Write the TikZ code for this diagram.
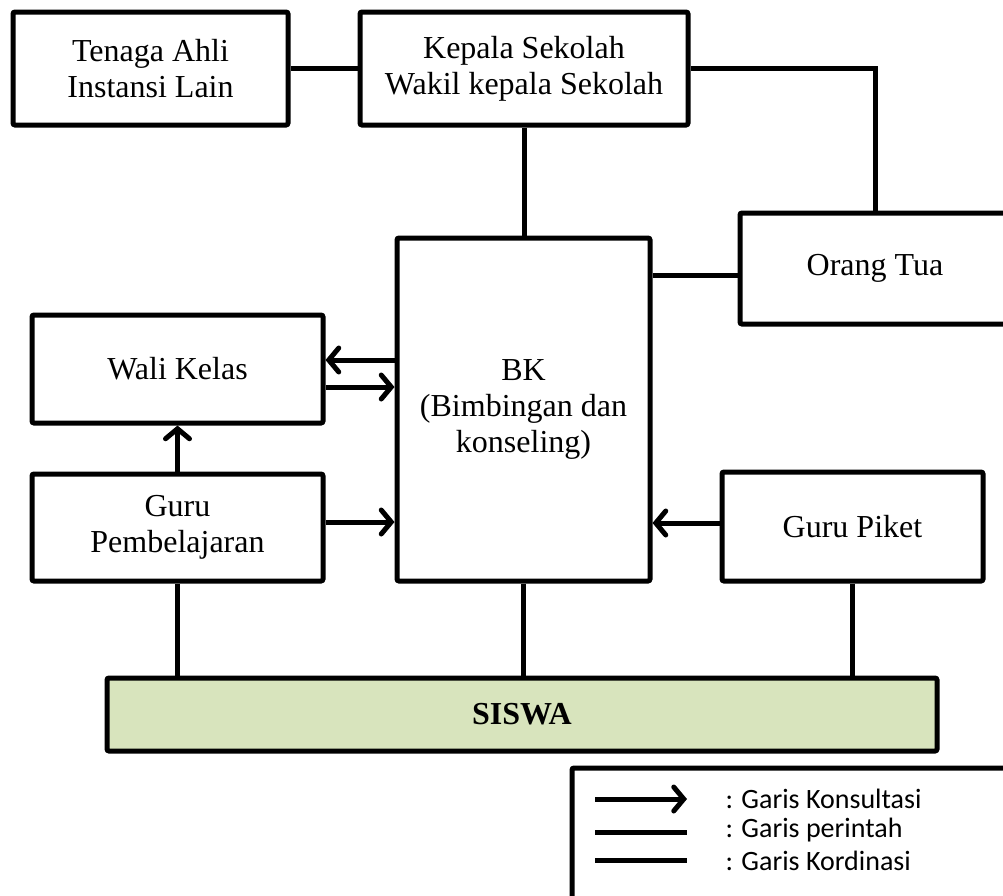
\documentclass[tikz,border=0pt]{standalone}
\usepackage{fontspec}
\setmainfont{Liberation Serif}
\newfontfamily\legendfont{Carlito}
\usetikzlibrary{arrows.meta, positioning}
\definecolor{siswahijau}{RGB}{216,228,189}

\begin{document}
\begin{tikzpicture}[x=1pt, y=-1pt,
  box/.style={draw, line width=5pt, rounded corners=2pt, fill=white, align=center, inner sep=0pt, font=\fontsize{32}{36}\selectfont},
  garis/.style={line width=5pt},
  konsul/.style={line width=5pt, -{Straight Barb[length=10pt, width=24pt, line cap=round]}}]
   \tikzset{every node/.append style={text=black}}
  \useasboundingbox (0,0) rectangle (1003,895);
  % kotak
  \node[box, minimum width=275, minimum height=113] (tenaga) at (150.5,68.5) {Tenaga Ahli\\Instansi Lain};
  \node[box, minimum width=328, minimum height=113] (kepala) at (524,68.5) {Kepala Sekolah\\Wakil kepala Sekolah};
  \node[box, minimum width=270, minimum height=111] (orang) at (875,268.5) {Orang Tua};
  \node[box, minimum width=253, minimum height=343] (bk) at (523.5,409.5) {BK\\(Bimbingan dan\\konseling)};
  \node[box, minimum width=291, minimum height=108] (wali) at (177.5,369) {Wali Kelas};
  \node[box, minimum width=291, minimum height=107] (gurup) at (177.5,527.5) {Guru\\Pembelajaran};
  \node[box, minimum width=261, minimum height=109] (piket) at (852.5,526.5) {Guru Piket};
  \node[box, fill=siswahijau, minimum width=830, minimum height=73, font=\fontsize{32}{36}\selectfont\bfseries] (siswa) at (522,714.5) {SISWA};
  % garis
  \draw[garis] (tenaga) -- (kepala);
  \draw[garis] (kepala.east) -| (orang.north);
  \draw[garis] (kepala.south) -- (kepala.south |- bk.north);
  \draw[garis] (bk.east |- 0,275) -- (orang.west |- 0,275);
  \draw[konsul] (bk.west |- 0,360) -- (wali.east |- 0,360);
  \draw[konsul] (wali.east |- 0,387) -- (bk.west |- 0,387);
  \draw[konsul] (gurup.north) -- (wali.south);
  \draw[konsul] (gurup.east |- 0,522) -- (bk.west |- 0,522);
  \draw[konsul] (piket.west |- 0,523) -- (bk.east |- 0,523);
  \draw[garis] (gurup.south) -- (gurup.south |- siswa.north);
  \draw[garis] (bk.south) -- (bk.south |- siswa.north);
  \draw[garis] (piket.south) -- (piket.south |- siswa.north);
  % keterangan
  \node[box, minimum width=443, minimum height=142] (legenda) at (793.5,839) {};
  \coordinate (k1) at (595,799);  \coordinate (k2) at (687,799);
  \coordinate (p1) at (595,832);  \coordinate (p2) at (687,832);
  \coordinate (r1) at (595,860);  \coordinate (r2) at (687,860);
  \draw[konsul] (k1) -- (k2);
  \draw[garis] (p1) -- (p2);
  \draw[garis] (r1) -- (r2);
  \node[anchor=west, font=\legendfont\fontsize{28}{30}\selectfont] (tk) at (722,799) {: Garis Konsultasi};
  \node[anchor=west, font=\legendfont\fontsize{28}{30}\selectfont] (tp) at (722,830) {: Garis perintah};
  \node[anchor=west, font=\legendfont\fontsize{28}{30}\selectfont] (tr) at (722,861) {: Garis Kordinasi};
\end{tikzpicture}
\end{document}
